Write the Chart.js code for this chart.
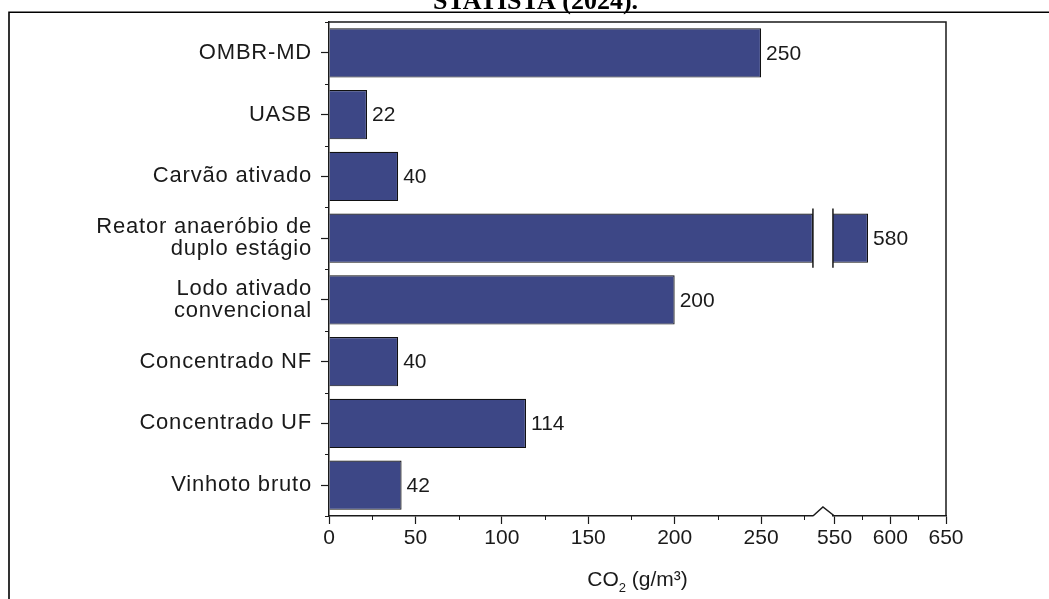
<!DOCTYPE html>
<html>
<head>
<meta charset="utf-8">
<script src="https://cdn.jsdelivr.net/npm/chart.js@4.4.1/dist/chart.umd.min.js"></script>
<style>
  html, body { margin: 0; padding: 0; background: #fff; overflow: hidden; }
  canvas { display: block; }
</style>
</head>
<body>
<canvas id="chart" width="1049" height="599"></canvas>
<script>
// CO2 per treatment route, horizontal bars on a broken value axis
const categories = [
  'OMBR-MD',
  'UASB',
  'Carvão ativado',
  ['Reator anaeróbio de', 'duplo estágio'],
  ['Lodo ativado', 'convencional'],
  'Concentrado NF',
  'Concentrado UF',
  'Vinhoto bruto'
];
const co2Values = [250, 22, 40, 580, 200, 40, 114, 42];

// the two pieces of the broken axis
const lowerRange = [0, 280];
const upperRange = [548.5, 650];
const tickStep = 25;
const labelStep = 50;

const axisTitle = { main: 'CO', sub: '2', rest: ' (g/m³)' };
const headerText = 'STATISTA (2024).';

const lowerSeries = co2Values.map(v => Math.min(v, lowerRange[1]));
const upperSeries = co2Values.map(v => (v > lowerRange[1] ? v : null));

const INK = '#1a1a1a';
const BAR = '#3d4786';
const FONT = "'Liberation Sans', Arial, sans-serif";
const FS = 21;
const CAT_FS = 22;

const xTickColor = ctx => (ctx.tick && ctx.tick.value % labelStep === 0 ? INK : 'rgba(0,0,0,0)');
const xTickLabel = v => (v % labelStep === 0 ? String(v) : '');

const extras = {
  id: 'extras',
  beforeDraw(chart) {
    const { ctx } = chart;
    ctx.save();
    // page frame
    ctx.strokeStyle = '#000';
    ctx.lineWidth = 1.6;
    ctx.beginPath();
    ctx.moveTo(1049, 12.3);
    ctx.lineTo(9, 12.3);
    ctx.lineTo(9, 599);
    ctx.stroke();
    // header caption
    ctx.fillStyle = '#000';
    ctx.font = "bold 26px 'Liberation Serif', 'Times New Roman', serif";
    ctx.textAlign = 'center';
    ctx.textBaseline = 'alphabetic';
    ctx.fillText(headerText, 535.5, 9);
    ctx.restore();
    // category names are set a little looser than the numbers
    ctx.letterSpacing = '0.8px';
  },
  beforeDatasetsDraw(chart) {
    chart.ctx.letterSpacing = '0px';
  },
  afterDraw(chart) {
    const { ctx, chartArea: a } = chart;
    const sx = chart.scales.x, sx2 = chart.scales.x2;
    ctx.save();
    ctx.letterSpacing = '0px';
    ctx.strokeStyle = INK;

    // top and right edges of the plot box
    ctx.lineWidth = 1.5;
    ctx.beginPath();
    ctx.moveTo(a.left, a.top);
    ctx.lineTo(a.right, a.top);
    ctx.lineTo(a.right, a.bottom);
    ctx.stroke();

    // zig-zag where the axis is broken
    const bx0 = sx.right, bx1 = sx2.left;
    ctx.beginPath();
    ctx.moveTo(bx0, a.bottom);
    ctx.lineTo((bx0 + bx1) / 2, a.bottom - 9);
    ctx.lineTo(bx1 + 1.5, a.bottom);
    ctx.stroke();

    // minor ticks on the value axes
    ctx.lineWidth = 1;
    [sx, sx2].forEach(s => {
      s.ticks.forEach(t => {
        if (t.value % labelStep !== 0) {
          const px = Math.round(s.getPixelForValue(t.value)) + 0.5;
          ctx.beginPath();
          ctx.moveTo(px, a.bottom);
          ctx.lineTo(px, a.bottom + 4);
          ctx.stroke();
        }
      });
    });

    // minor ticks between categories
    const step = (a.bottom - a.top) / categories.length;
    for (let i = 0; i <= categories.length; i++) {
      const py = Math.round(a.top + i * step) + 0.5;
      ctx.beginPath();
      ctx.moveTo(a.left - 4, py);
      ctx.lineTo(a.left, py);
      ctx.stroke();
    }

    // break marks across the long bar
    const lowMeta = chart.getDatasetMeta(0).data;
    const upMeta = chart.getDatasetMeta(1).data;
    ctx.lineWidth = 1.5;
    co2Values.forEach((v, i) => {
      if (v > lowerRange[1]) {
        const el = lowMeta[i];
        const h = el.height / 2 + 5;
        [sx.right, sx2.left].forEach(px => {
          ctx.beginPath();
          ctx.moveTo(px, el.y - h);
          ctx.lineTo(px, el.y + h);
          ctx.stroke();
        });
      }
    });

    // value labels at bar ends
    ctx.fillStyle = INK;
    ctx.font = `${FS}px ${FONT}`;
    ctx.textAlign = 'left';
    ctx.textBaseline = 'middle';
    co2Values.forEach((v, i) => {
      const el = v > lowerRange[1] ? upMeta[i] : lowMeta[i];
      ctx.fillText(String(v), el.x + 5, el.y + 1);
    });

    // value-axis title, centred under the whole broken axis
    const cx = (a.left + a.right) / 2;
    const ty = 586;
    ctx.font = `${FS}px ${FONT}`;
    const wMain = ctx.measureText(axisTitle.main).width;
    const wRest = ctx.measureText(axisTitle.rest).width;
    ctx.font = `${Math.round(FS * 0.62)}px ${FONT}`;
    const wSub = ctx.measureText(axisTitle.sub).width;
    let x = cx - (wMain + wSub + wRest) / 2;
    ctx.textBaseline = 'alphabetic';
    ctx.font = `${FS}px ${FONT}`;
    ctx.fillText(axisTitle.main, x, ty);
    x += wMain;
    ctx.font = `${Math.round(FS * 0.62)}px ${FONT}`;
    ctx.fillText(axisTitle.sub, x, ty + 6);
    x += wSub;
    ctx.font = `${FS}px ${FONT}`;
    ctx.fillText(axisTitle.rest, x, ty);
    ctx.restore();
  }
};

const valueAxis = (range, weight) => ({
  type: 'linear',
  position: 'bottom',
  stack: 'value',
  stackWeight: weight,
  min: range[0],
  max: range[1],
  afterFit: s => { s.height = 83; },
  border: { display: true, color: INK, width: 1.5, z: 1 },
  grid: { drawOnChartArea: false, drawTicks: true, tickLength: 8, tickColor: xTickColor, tickWidth: 1.2, z: 1 },
  ticks: {
    z: 1,
    stepSize: tickStep,
    includeBounds: false,
    autoSkip: false,
    maxRotation: 0,
    padding: 2,
    color: INK,
    font: { family: FONT, size: FS },
    callback: xTickLabel
  }
});

new Chart(document.getElementById('chart'), {
  type: 'bar',
  data: {
    labels: categories,
    datasets: [
      {
        data: lowerSeries,
        xAxisID: 'x',
        yAxisID: 'y',
        backgroundColor: BAR,
        borderColor: '#111',
        borderWidth: 1.2,
        borderSkipped: 'start',
        grouped: false,
        categoryPercentage: 1,
        barPercentage: 0.8
      },
      {
        data: upperSeries,
        xAxisID: 'x2',
        yAxisID: 'y',
        backgroundColor: BAR,
        borderColor: '#111',
        borderWidth: 1.2,
        borderSkipped: false,
        grouped: false,
        categoryPercentage: 1,
        barPercentage: 0.8
      }
    ]
  },
  options: {
    indexAxis: 'y',
    responsive: false,
    animation: false,
    devicePixelRatio: 1,
    layout: { padding: { top: 22, right: 103, bottom: 0, left: 0 } },
    plugins: { legend: { display: false }, tooltip: { enabled: false }, title: { display: false } },
    scales: {
      y: {
        type: 'category',
        position: 'left',
        afterFit: s => { s.width = 329; },
        border: { display: true, color: INK, width: 1.5 },
        grid: { drawOnChartArea: false, offset: false, tickLength: 8, tickColor: INK, tickWidth: 1.2 },
        ticks: {
          padding: 9,
          color: INK,
          autoSkip: false,
          font: { family: FONT, size: CAT_FS, lineHeight: 1.0 }
        }
      },
      x: valueAxis(lowerRange, 483.7),
      xGap: {
        type: 'linear',
        position: 'bottom',
        stack: 'value',
        stackWeight: 20,
        min: 0,
        max: 1,
        display: false
      },
      x2: valueAxis(upperRange, 113)
    }
  },
  plugins: [extras]
});
</script>
</body>
</html>
